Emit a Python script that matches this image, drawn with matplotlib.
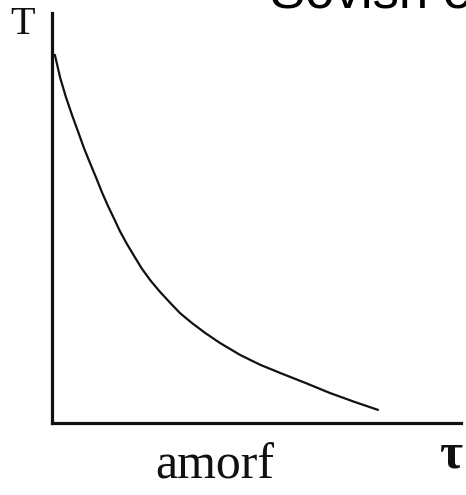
import matplotlib.pyplot as plt

time = [0.7, 2.0, 3.4, 4.9, 6.4, 7.8, 9.3, 10.8, 12.2, 13.7, 15.2, 16.6,
        18.3, 20.1, 22.0, 24.2, 26.4, 28.9, 31.3, 34.2, 37.4, 41.1, 46.0,
        50.9, 55.8, 61.9, 68.0, 74.1, 79.7]
temp = [89.8, 84.2, 79.5, 75.1, 71.0, 67.1, 63.4, 59.8, 56.3, 52.9, 49.8,
        46.8, 43.7, 40.7, 37.6, 34.6, 32.0, 29.3, 26.8, 24.4, 22.0, 19.5,
        16.6, 14.2, 12.2, 9.8, 7.3, 5.1, 3.2]

W, H = 466, 495
fig = plt.figure(figsize=(W / 100, H / 100), dpi=100)

# axes box placed in pixels: left edge x=52, bottom y=423, top y=13, right x=461
ax = fig.add_axes([52 / W, (H - 423) / H, (461 - 52) / W, (423 - 13) / H])
ax.plot(time, temp, color="#111111", lw=1.6, solid_capstyle="round",
        solid_joinstyle="round")
ax.set_xlim(0, 100)
ax.set_ylim(0, 100)
for s in ["top", "right"]:
    ax.spines[s].set_visible(False)
for s in ["left", "bottom"]:
    ax.spines[s].set_linewidth(2.3)
    ax.spines[s].set_color("#111111")
ax.set_xticks([])
ax.set_yticks([])

serif = ["Liberation Serif", "DejaVu Serif"]
fig.text(23 / W, 1 - 24 / H, "T", family=serif, fontsize=29,
         ha="center", va="center", color="#111111")
fig.text(451 / W, 1 - 455 / H, "τ", family=serif, fontsize=36, fontweight="bold",
         ha="center", va="center", color="#111111")
fig.text(215 / W, 1 - 466 / H, "amorf", family=serif, fontsize=36,
         ha="center", va="center", color="#111111")
fig.text(270 / W, 1 - 7 / H, "Sovish e", family=["Liberation Sans", "DejaVu Sans"],
         fontsize=38, ha="left", va="baseline", color="black")

fig.savefig("out.png", dpi=100)
